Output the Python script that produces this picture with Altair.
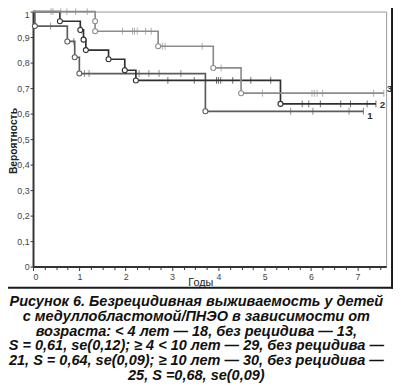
import altair as alt
import pandas as pd

# ---- data (Kaplan-Meier curves) ----
series_names = ["1", "2", "3"]

# curve 1: < 4 лет
events_t1 = [0.04, 0.74, 0.90, 1.00, 3.72]
events_s1 = [0.943, 0.883, 0.821, 0.757, 0.609]
censor_t1 = [0.38, 0.88, 1.11, 1.21, 2.29, 2.50, 2.72, 3.19, 5.56, 6.04, 6.82, 7.13]

# curve 2: >= 4 < 10 лет
events_t2 = [0.58, 1.02, 1.09, 1.14, 1.63, 1.98, 2.22, 5.34]
events_s2 = [0.962, 0.928, 0.890, 0.849, 0.813, 0.770, 0.730, 0.638]
censor_t2 = [1.05, 2.00, 2.91, 3.48, 3.96, 4.00, 4.05, 4.31, 4.70, 5.13,
             5.81, 5.95, 6.20, 6.64, 6.85, 7.21, 7.40]

# curve 3: >= 10 лет
events_t3 = [1.34, 1.34, 2.70, 3.89, 4.49]
events_s3 = [0.962, 0.923, 0.864, 0.779, 0.680]
censor_t3 = [0.39, 0.43, 0.60, 0.73, 0.92, 1.17, 1.93, 2.15, 2.19, 2.25, 2.43,
             2.55, 2.79, 2.85, 3.65, 4.06, 4.95, 6.02, 6.07, 6.13, 6.25, 7.35, 7.57]

x_ticks_major = [0, 1, 2, 3, 4, 5, 6, 7]
y_ticks = [0, 0.1, 0.2, 0.3, 0.4, 0.5, 0.6, 0.7, 0.8, 0.9, 1.0]

caption_lines = [
    "Рисунок 6. Безрецидивная выживаемость у детей",
    "с медуллобластомой/ПНЭО в зависимости от",
    "возраста: < 4 лет — 18, без рецидива — 13,",
    "S = 0,61, se(0,12); ≥ 4 < 10 лет — 29, без рецидива —",
    "21, S = 0,64, se(0,09); ≥ 10 лет — 30, без рецидива —",
    "25, S =0,68, se(0,09)",
]

# ---- styles ----
colors = ["#5c5c5c", "#2f2f2f", "#8c8c8c"]
label_dy = {"1": 5, "2": 1.5, "3": -4}
label_dx = {"1": 4, "2": 4, "3": 3}
FONT = "Liberation Sans"

curves = {
    "1": (events_t1, events_s1, censor_t1),
    "2": (events_t2, events_s2, censor_t2),
    "3": (events_t3, events_s3, censor_t3),
}

step_rows, event_rows, censor_rows, end_rows = [], [], [], []
for name, (et, es, ct) in curves.items():
    end_t = max(ct + et)
    i = 0
    step_rows.append({"curve": name, "t": 0.0, "s": 1.0, "i": i})
    for t, s in zip(et, es):
        i += 1
        step_rows.append({"curve": name, "t": t, "s": s, "i": i})
        event_rows.append({"curve": name, "t": t, "s": s})
    i += 1
    step_rows.append({"curve": name, "t": end_t, "s": es[-1], "i": i})
    for c in ct:
        s_here = 1.0
        for t, s in zip(et, es):
            if t <= c:
                s_here = s
        censor_rows.append({"curve": name, "t": c, "s": s_here})
    end_rows.append({"curve": name, "t": end_t, "s": es[-1]})

steps = pd.DataFrame(step_rows)
events = pd.DataFrame(event_rows)
censors = pd.DataFrame(censor_rows)
ends = pd.DataFrame(end_rows)

color = alt.Color("curve:N", scale=alt.Scale(domain=series_names, range=colors), legend=None)

x_minor = [k * 0.25 for k in range(31)]
x_axis = alt.Axis(
    values=x_minor,
    labelExpr="datum.value % 1 == 0 ? format(datum.value, 'd') : ''",
    tickSize={"condition": {"test": "datum.value % 1 == 0", "value": 4}, "value": 3},
    labelOverlap=False,
    grid=False, domainColor="#333", domainWidth=2, tickColor="#333",
    labelFont=FONT, labelFontSize=9, labelColor="#444", labelPadding=2,
    title="Годы", titleFont=FONT, titleFontSize=11, titleFontWeight="normal",
    titleColor="#222", titleX=170.5, titleY=16.5, titleAlign="center",
    titleBaseline="middle", titleAnchor="middle",
)
y_axis = alt.Axis(
    values=y_ticks,
    labelExpr="replace(format(datum.value, '.1~f'), '.', ',')",
    labelOverlap=False,
    tickSize=3, grid=False, domainColor="#333", domainWidth=2, tickColor="#333",
    labelFont=FONT, labelFontSize=9, labelColor="#444", labelPadding=1,
    labelOffset={"condition": {"test": "datum.value == 1", "value": 3}, "value": 0},
    title="Вероятность", titleFont=FONT, titleFontSize=10.5, titleFontWeight="bold",
    titleColor="#222", titleX=-20, titleY=131.5, titleAngle=270,
    titleAlign="center", titleBaseline="middle",
)

X = alt.X("t:Q", scale=alt.Scale(domain=[0, 7.62], nice=False, zero=True), axis=x_axis)
Y = alt.Y("s:Q", scale=alt.Scale(domain=[0, 1], nice=False), axis=y_axis)

lines = alt.Chart(steps).mark_line(interpolate="step-after", strokeWidth=1.7).encode(
    x=X, y=Y, color=color, detail="curve:N", order="i:Q"
)
ticks = alt.Chart(censors).mark_tick(orient="vertical", size=7, thickness=1).encode(
    x=X, y=Y, color=color
)
circles = alt.Chart(events).mark_point(
    shape="circle", filled=False, fill="white", fillOpacity=1, size=26, strokeWidth=1.1, opacity=1
).encode(x=X, y=Y, stroke=alt.Stroke("curve:N", scale=alt.Scale(domain=series_names, range=colors), legend=None))

end_labels = []
for name in series_names:
    end_labels.append(
        alt.Chart(ends[ends["curve"] == name]).mark_text(
            align="left", baseline="middle", font=FONT, fontSize=10, fontWeight="bold",
            color="#333", dx=label_dx[name], dy=label_dy[name]
        ).encode(x=X, y=Y, text="curve:N")
    )

one = pd.DataFrame({"a": [0]})
caption = alt.Chart(one).mark_text(
    text=caption_lines, align="center", baseline="alphabetic", font=FONT,
    fontSize=14.8, fontStyle="italic", fontWeight="bold", lineHeight=15, color="#111"
).encode(x=alt.value(166.5), y=alt.value(300.5))

frame_right = alt.Chart(one).mark_rule(color="#1a1a1a", strokeWidth=2).encode(
    x=alt.value(366), y=alt.value(-8), y2=alt.value(282.5)
)
frame_bottom = alt.Chart(one).mark_rule(color="#1a1a1a", strokeWidth=2).encode(
    x=alt.value(-26), x2=alt.value(367), y=alt.value(281.5)
)

chart = alt.layer(
    lines, ticks, circles, *end_labels, caption, frame_right, frame_bottom
).properties(
    width=360, height=260,
    autosize=alt.AutoSizeParams(type="none"),
    padding={"left": 25.5, "top": 0, "right": 7, "bottom": 115},
).configure_view(
    stroke="#999", strokeWidth=1
).configure_axis(labelOverlap=False)

chart.save("out.html", embed_options={"renderer": "svg", "actions": False})
